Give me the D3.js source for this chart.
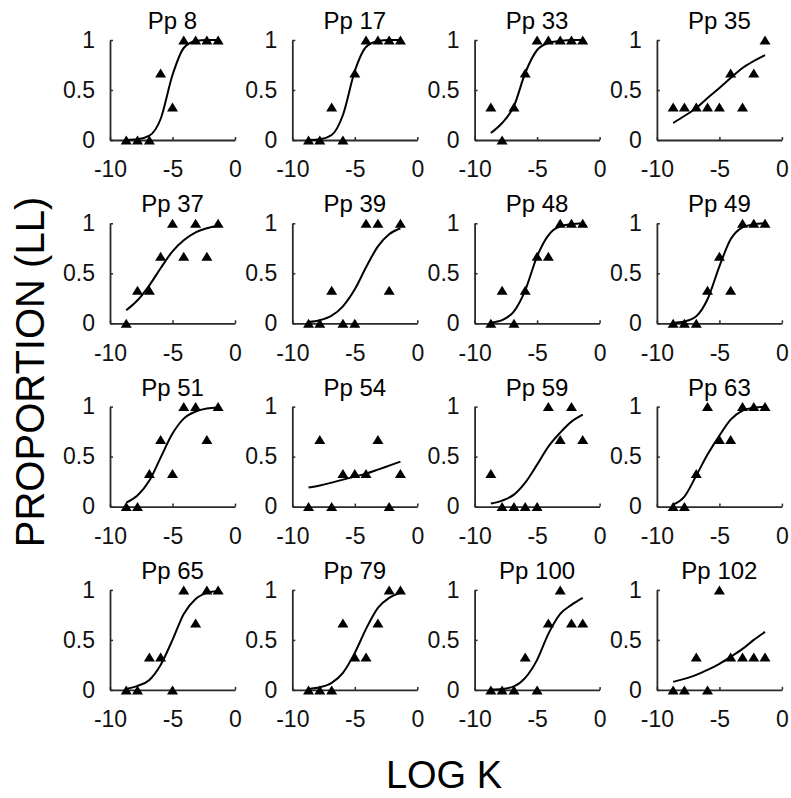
<!DOCTYPE html>
<html><head><meta charset="utf-8">
<script src="https://cdn.jsdelivr.net/npm/d3@7"></script>
<style>body{margin:0;background:#fff}svg{display:block}</style>
</head><body>
<svg id="c" width="791" height="798"></svg>
<script>
// ---------- DATA ----------
const participants = ["Pp 8","Pp 17","Pp 33","Pp 35","Pp 37","Pp 39","Pp 48","Pp 49",
                      "Pp 51","Pp 54","Pp 59","Pp 63","Pp 65","Pp 79","Pp 100","Pp 102"];
const logK = [-8.7, -7.8, -6.85, -5.95, -5.0, -4.1, -3.15, -2.25, -1.35];
const observed = [
  [0,0,0,0.67,0.33,1,1,1,1],
  [0,0,0.33,0,0.67,1,1,1,1],
  [0.33,0,0.33,0.67,1,1,1,1,1],
  [0.33,0.33,0.33,0.33,0.33,0.67,0.33,0.67,1],
  [0,0.33,0.33,0.67,1,0.67,1,0.67,1],
  [0,0,0.33,0,0,1,1,0.33,1],
  [0,0.33,0,0.33,0.67,0.67,1,1,1],
  [0,0,0,0.33,0.67,0.33,1,1,1],
  [0,0,0.33,0.67,0.33,1,1,0.67,1],
  [0,0.67,0,0.33,0.33,0.33,0.67,0,0.33],
  [0.33,0,0,0,0,1,0.67,1,0.67],
  [0,0,0.33,1,0.67,0.67,1,1,1],
  [0,0,0.33,0.33,0,1,0.67,1,1],
  [0,0,0,0.67,0.33,0.33,0.67,1,1],
  [0,0,0,0.33,0,0.67,1,0.67,0.67],
  [0,0,0.33,0,1,0.33,0.33,0.33,0.33]
];
const fitted = [
  [0.001,0.007,0.043,0.21,0.65,0.92,0.99,1.0,1.0],
  [0.001,0.008,0.05,0.25,0.69,0.93,0.99,1.0,1.0],
  [0.07,0.17,0.34,0.67,0.9,0.97,0.99,1.0,1.0],
  [0.17,0.24,0.32,0.42,0.52,0.62,0.72,0.79,0.85],
  [0.13,0.23,0.38,0.55,0.72,0.83,0.91,0.95,0.975],
  [0.012,0.03,0.076,0.17,0.34,0.56,0.77,0.89,0.95],
  [0.008,0.032,0.12,0.33,0.67,0.88,0.97,0.99,1.0],
  [0.004,0.018,0.07,0.24,0.57,0.84,0.96,0.99,1.0],
  [0.04,0.11,0.26,0.49,0.73,0.88,0.95,0.98,0.99],
  [0.19,0.21,0.24,0.27,0.30,0.33,0.37,0.41,0.45],
  [0.03,0.06,0.12,0.24,0.42,0.6,0.74,0.85,0.92],
  [0.02,0.1,0.31,0.52,0.71,0.87,0.96,0.99,1.0],
  [0.01,0.04,0.1,0.25,0.5,0.76,0.91,0.97,0.99],
  [0.01,0.026,0.07,0.17,0.37,0.61,0.82,0.92,0.97],
  [0.005,0.01,0.035,0.12,0.3,0.56,0.76,0.85,0.92],
  [0.08,0.11,0.15,0.2,0.26,0.33,0.41,0.5,0.58]
];
const xTicks = [-10, -5, 0];
const xTickLabels = ["-10", "-5", "0"];
const yTicks = [0, 0.5, 1];
const yTickLabels = ["0", "0.5", "1"];
const xTitle = "LOG K";
const yTitle = "PROPORTION (LL)";

// ---------- LAYOUT ----------
const FONT = "'Liberation Sans', Arial, Helvetica, sans-serif";
const W = 125, H = 100;
const left0 = 110, top0 = 40, dx = 182.3, dy = 183.3;
const svg = d3.select("#c");

participants.forEach((name, i) => {
  const col = i % 4, row = Math.floor(i / 4);
  const g = svg.append("g").attr("transform", `translate(${left0 + col*dx},${top0 + row*dy})`);
  const x = d3.scaleLinear().domain([-10, 0]).range([0, W]);
  const y = d3.scaleLinear().domain([0, 1]).range([H, 0]);

  const xa = g.append("g").attr("transform", `translate(0,${H})`)
    .call(d3.axisBottom(x).tickValues(xTicks).tickSizeInner(-3).tickSizeOuter(0)
      .tickPadding(21).tickFormat((d, k) => xTickLabels[k]));
  const ya = g.append("g")
    .call(d3.axisLeft(y).tickValues(yTicks).tickSizeInner(-3).tickSizeOuter(0)
      .tickPadding(15).tickFormat((d, k) => yTickLabels[k]));
  [xa, ya].forEach(a => {
    a.select(".domain").attr("stroke", "#2a2a2a").attr("stroke-width", 1.8);
    a.selectAll(".tick line").attr("stroke", "#2a2a2a").attr("stroke-width", 1.5);
    a.selectAll(".tick text").attr("font-size", 23).attr("font-family", FONT).attr("fill", "#111");
  });

  const line = d3.line().x((d, k) => x(logK[k])).y(d => y(d)).curve(d3.curveMonotoneX);
  g.append("path").attr("d", line(fitted[i])).attr("fill", "none")
    .attr("stroke", "#000").attr("stroke-width", 2);

  g.selectAll("path.tri").data(observed[i]).join("path").attr("class", "tri")
    .attr("d", "M0,-4.5L5.5,4.5L-5.5,4.5Z")
    .attr("transform", (d, k) => `translate(${x(logK[k])},${y(d)})`)
    .attr("fill", "#000");

  g.append("text").attr("x", W/2).attr("y", -11).attr("text-anchor", "middle")
    .attr("font-size", 24).attr("font-family", FONT).attr("fill", "#000").text(name);
});

svg.append("text").attr("x", 444).attr("y", 788).attr("text-anchor", "middle")
  .attr("font-size", 38).attr("font-family", FONT).attr("fill", "#000").text(xTitle);
svg.append("text").attr("transform", "translate(44,372) rotate(-90)").attr("text-anchor", "middle")
  .attr("font-size", 40).attr("font-family", FONT).attr("fill", "#000").text(yTitle);
</script>
</body></html>
